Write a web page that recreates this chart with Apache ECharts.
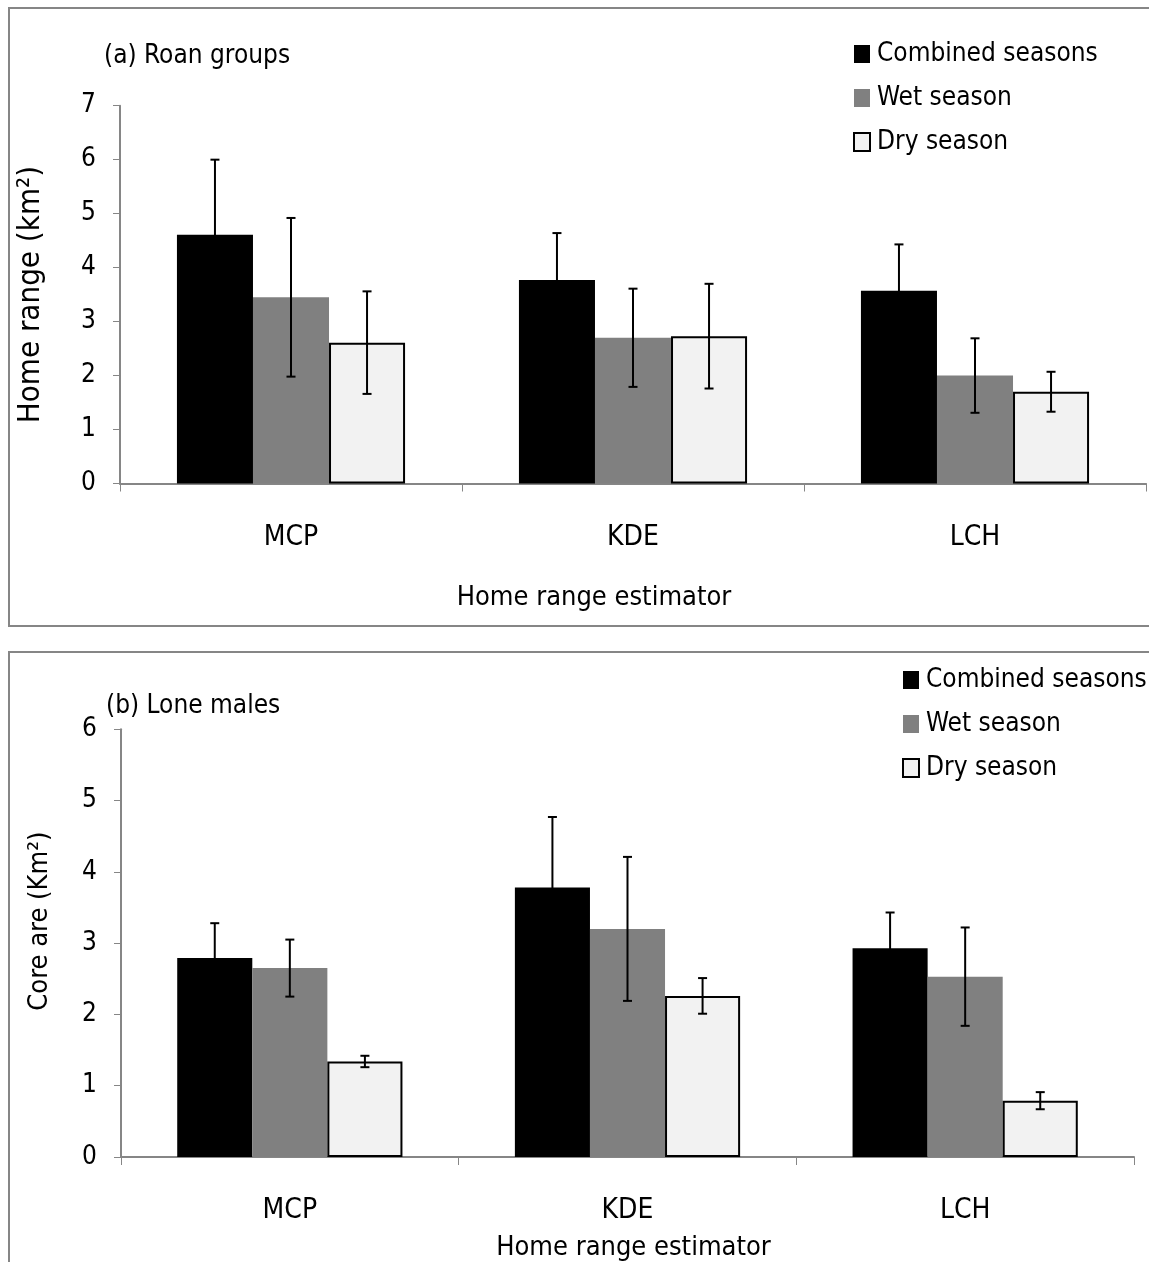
<!DOCTYPE html>
<html>
<head>
<meta charset="utf-8">
<script src="https://cdn.jsdelivr.net/npm/echarts@6/dist/echarts.min.js"></script>
<style>
html,body{margin:0;padding:0;background:#fff;}
#c{width:1149px;height:1262px;}
</style>
</head>
<body>
<div id="c"></div>
<script>
const categories = ['MCP', 'KDE', 'LCH'];
const seriesNames = ['Combined seasons', 'Wet season', 'Dry season'];

// (a) Roan groups — home range (km²), mean and error
const roanCombined = [4.61, 3.77, 3.57];
const roanCombinedErr = [1.39, 0.87, 0.86];
const roanWet = [3.45, 2.70, 2.00];
const roanWetErr = [1.47, 0.91, 0.69];
const roanDry = [2.61, 2.73, 1.70];
const roanDryErr = [0.95, 0.97, 0.37];

// (b) Lone males — core area (km²), mean and error
const loneCombined = [2.79, 3.78, 2.93];
const loneCombinedErr = [0.49, 0.99, 0.50];
const loneWet = [2.65, 3.20, 2.53];
const loneWetErr = [0.40, 1.01, 0.69];
const loneDry = [1.34, 2.26, 0.79];
const loneDryErr = [0.08, 0.25, 0.12];

const topTicks = [0, 1, 2, 3, 4, 5, 6, 7];
const bottomTicks = [0, 1, 2, 3, 4, 5, 6];

const FONT = '"Liberation Sans Narrow", "DejaVu Sans Condensed", sans-serif';
const AXIS_GRAY = '#868686';
const GAP = 0.333;

const styles = [
  { color: '#000000' },
  { color: '#808080' },
  { color: '#f2f2f2', borderColor: '#000000', borderWidth: 2 }
];

function barSeries(name, data, idx, k) {
  return {
    name: name, type: 'bar', data: data,
    xAxisIndex: idx, yAxisIndex: idx,
    barGap: '0%', barCategoryGap: '33.3%',
    itemStyle: styles[k],
    emphasis: { disabled: true },
    z: 2
  };
}

function errData(means, errs, k) {
  return means.map((m, i) => [i, m - errs[i], m + errs[i], k]);
}

function errRender(params, api) {
  const c = api.value(0), lo = api.value(1), hi = api.value(2), k = api.value(3);
  const band = api.size([1, 0])[0];
  const bw = band * (1 - GAP) / 3;
  const x = api.coord([c, 0])[0] + (k - 1) * bw;
  const yLo = api.coord([c, lo])[1];
  const yHi = api.coord([c, hi])[1];
  const cap = 4.5;
  const st = { stroke: '#000', lineWidth: 2 };
  return {
    type: 'group',
    children: [
      { type: 'line', shape: { x1: x, y1: yLo, x2: x, y2: yHi }, style: st },
      { type: 'line', shape: { x1: x - cap, y1: yHi, x2: x + cap, y2: yHi }, style: st },
      { type: 'line', shape: { x1: x - cap, y1: yLo, x2: x + cap, y2: yLo }, style: st }
    ]
  };
}

function errSeries(means, errs, k, idx) {
  return {
    type: 'custom', renderItem: errRender,
    data: errData(means, errs, k),
    xAxisIndex: idx, yAxisIndex: idx, z: 5, silent: true,
    encode: { x: 0, y: [1, 2] }
  };
}

function xAxis(idx, margin, nameGap, pad) {
  return {
    type: 'category', gridIndex: idx, data: categories,
    axisLine: { lineStyle: { color: AXIS_GRAY, width: 2 } },
    axisTick: { show: true, length: 8, lineStyle: { color: AXIS_GRAY, width: 1 } },
    axisLabel: { color: '#000', fontSize: 28, margin: margin, fontFamily: FONT },
    name: 'Home range estimator', nameLocation: 'middle', nameGap: nameGap,
    nameTextStyle: { color: '#000', fontSize: 27, fontFamily: FONT, padding: pad },
    splitLine: { show: false }
  };
}

function yAxis(idx, max, name, nameSize, nameGap, pad) {
  return {
    type: 'value', gridIndex: idx, min: 0, max: max, interval: 1,
    axisLine: { show: true, lineStyle: { color: AXIS_GRAY, width: 2 } },
    axisTick: { show: true, length: 7, lineStyle: { color: AXIS_GRAY, width: 1 } },
    axisLabel: { color: '#000', fontSize: 26, margin: 24, fontFamily: FONT },
    splitLine: { show: false },
    name: name, nameLocation: 'middle', nameGap: nameGap, nameRotate: 90,
    nameTextStyle: { color: '#000', fontSize: nameSize, fontFamily: FONT, padding: pad }
  };
}

function legend(left, top) {
  return {
    orient: 'vertical', left: left, top: top,
    data: seriesNames,
    icon: 'rect', itemWidth: 16, itemHeight: 18, itemGap: 14,
    selectedMode: false,
    textStyle: { color: '#000', fontSize: 26, lineHeight: 30, fontFamily: FONT, padding: [0, 0, 0, 2] }
  };
}

const chart = echarts.init(document.getElementById('c'), null, { renderer: 'canvas' });
chart.setOption({
  animation: false,
  backgroundColor: '#ffffff',
  textStyle: { fontFamily: FONT },
  title: [
    { text: '(a) Roan groups', left: 99, top: 38, textStyle: { fontSize: 26, fontWeight: 'normal', color: '#000', fontFamily: FONT } },
    { text: '(b) Lone males', left: 101, top: 688, textStyle: { fontSize: 26, fontWeight: 'normal', color: '#000', fontFamily: FONT } }
  ],
  legend: [legend(848, 34), legend(897, 660)],
  graphic: [
    { type: 'rect', shape: { x: 9, y: 8, width: 1150, height: 618 }, style: { fill: 'none', stroke: AXIS_GRAY, lineWidth: 2 }, silent: true, z: -1 },
    { type: 'rect', shape: { x: 9, y: 652, width: 1150, height: 640 }, style: { fill: 'none', stroke: AXIS_GRAY, lineWidth: 2 }, silent: true, z: -1 }
  ],
  grid: [
    { left: 120, top: 105.7, width: 1026, height: 377.8 },
    { left: 121, top: 729.3, width: 1013, height: 429 }
  ],
  xAxis: [xAxis(0, 40, 101, [0, 78, 0, 0]), xAxis(1, 40, 77, [0, 0, 0, 12])],
  yAxis: [
    yAxis(0, topTicks[topTicks.length - 1], 'Home range (km²)', 31, 74, [0, 0, 0, 0]),
    yAxis(1, bottomTicks[bottomTicks.length - 1], 'Core are (Km²)', 27, 68, [0, 0, 0, 44])
  ],
  series: [
    barSeries(seriesNames[0], roanCombined, 0, 0),
    barSeries(seriesNames[1], roanWet, 0, 1),
    barSeries(seriesNames[2], roanDry, 0, 2),
    barSeries(seriesNames[0], loneCombined, 1, 0),
    barSeries(seriesNames[1], loneWet, 1, 1),
    barSeries(seriesNames[2], loneDry, 1, 2),
    errSeries(roanCombined, roanCombinedErr, 0, 0),
    errSeries(roanWet, roanWetErr, 1, 0),
    errSeries(roanDry, roanDryErr, 2, 0),
    errSeries(loneCombined, loneCombinedErr, 0, 1),
    errSeries(loneWet, loneWetErr, 1, 1),
    errSeries(loneDry, loneDryErr, 2, 1)
  ]
});
</script>
</body>
</html>
